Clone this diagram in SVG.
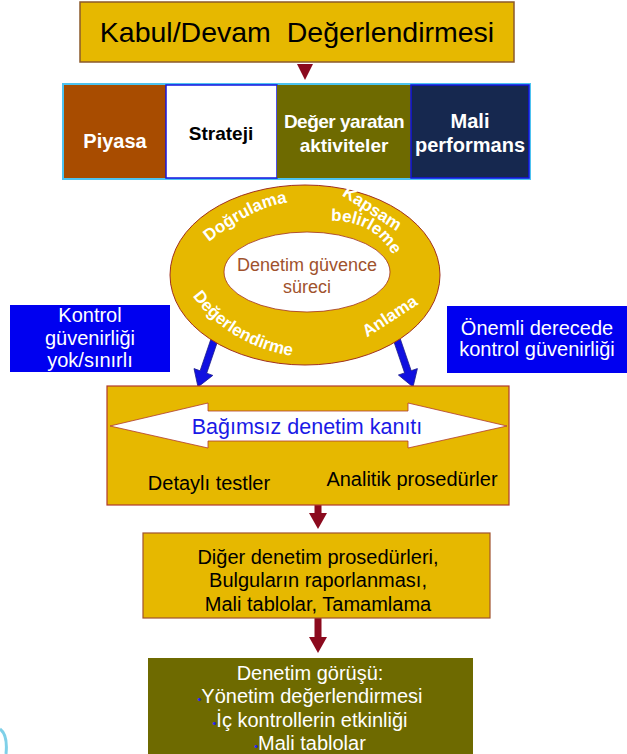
<svg xmlns="http://www.w3.org/2000/svg" width="627" height="754" viewBox="0 0 627 754">
<defs>
<style>
text{font-family:"Liberation Sans",Arial,sans-serif;}
.gold{fill:#E6B800;}
.wb{fill:#fff;font-weight:bold;}
.wt{fill:#fff;}
.bk{fill:#000;}
.mid{text-anchor:middle;}
.ring{fill:#fff;font-weight:bold;font-size:17px;}
</style>
<path id="pDog" d="M205,245 Q254,205 292,202"/>
<path id="pBel" d="M331,221 Q373,220 393,255"/>
<path id="pDeg" d="M189,291 Q226,346 298,357"/>
</defs>
<rect width="627" height="754" fill="#fff"/>

<g id="connectors">
<polygon points="297,64 313,64 305,80" fill="#8B0A1E"/>
<polygon points="218.3,339.2 206.7,373.2 212.8,375.4 198,387 194,368.6 200.1,370.8 211.7,336.8" fill="#1010E0" stroke="#1a1a8a" stroke-width="0.8"/>
<polygon points="400.3,338.9 411.2,370.7 417.4,368.6 413,387 398.4,375 404.6,372.9 393.7,341.1" fill="#1010E0" stroke="#1a1a8a" stroke-width="0.8"/>
<polygon points="314.5,505 321.5,505 321.5,513 327,513 318,529 309,513 314.5,513" fill="#8B0A1E"/>
<polygon points="314.5,618 321.5,618 321.5,637 327,637 318,653 309,637 314.5,637" fill="#8B0A1E"/>
</g>

<g id="title">
<rect x="80" y="2" width="434" height="60" class="gold" stroke="#8B5A2B" stroke-width="1.5"/>
<text x="297" y="42" class="mid bk" font-size="28.5" xml:space="preserve">Kabul/Devam  Değerlendirmesi</text>
</g>

<g id="row">
<rect x="63" y="84" width="467" height="95" fill="none" stroke="#4DC3F0" stroke-width="2"/>
<g id="piyasa">
<rect x="64" y="85" width="102" height="93" fill="#A84C00"/>
<text x="115" y="148" class="mid wb" font-size="20">Piyasa</text>
</g>
<g id="strateji">
<rect x="166" y="85" width="111" height="93" fill="#fff" stroke="#1515E0" stroke-width="1.5"/>
<text x="221" y="140" class="mid bk" font-weight="bold" font-size="19">Strateji</text>
</g>
<g id="deger">
<rect x="277" y="85" width="134" height="93" fill="#6E6A00"/>
<text x="344" y="128" class="mid wb" font-size="19" letter-spacing="-0.5">Değer yaratan</text>
<text x="344" y="152" class="mid wb" font-size="19">aktiviteler</text>
</g>
<g id="mali">
<rect x="411" y="85" width="118" height="93" fill="#16284F" stroke="#1515E0" stroke-width="1.5"/>
<text x="470" y="128" class="mid wb" font-size="20">Mali</text>
<text x="470" y="152" class="mid wb" font-size="20">performans</text>
</g>
</g>

<g id="ring">
<ellipse cx="305" cy="275" rx="135" ry="90" class="gold" stroke="#A0301E" stroke-width="1"/>
<ellipse cx="307" cy="272" rx="83" ry="40" fill="#fff" stroke="#A0301E" stroke-width="0.8"/>
<text x="307" y="271" class="mid" font-size="18" fill="#A0522D">Denetim güvence</text>
<text x="307" y="293" class="mid" font-size="18" fill="#A0522D">süreci</text>
<text class="ring"><textPath href="#pDog" startOffset="50%" text-anchor="middle">Doğrulama</textPath></text>
<text class="ring" font-size="16" transform="translate(372,209) rotate(33)" x="0" y="5" text-anchor="middle">Kapsam</text>
<text class="ring" font-size="16"><textPath href="#pBel" startOffset="50%" text-anchor="middle">belirleme</textPath></text>
<text class="ring"><textPath href="#pDeg" startOffset="50%" text-anchor="middle">Değerlendirme</textPath></text>
<text class="ring" font-size="19" transform="translate(389,315) rotate(-33)" x="0" y="7" text-anchor="middle">Anlama</text>
</g>

<g id="kontrol-yok">
<rect x="10" y="305" width="160" height="67" fill="#0000F0"/>
<text x="90" y="322" class="mid wt" font-size="20">Kontrol</text>
<text x="90" y="345" class="mid wt" font-size="20">güvenirliği</text>
<text x="90" y="367" class="mid wt" font-size="20">yok/sınırlı</text>
</g>

<g id="kontrol-onemli">
<rect x="447" y="306" width="180" height="67" fill="#0000F0"/>
<text x="537" y="335" class="mid wt" font-size="20">Önemli derecede</text>
<text x="537" y="356" class="mid wt" font-size="20">kontrol güvenirliği</text>
</g>

<g id="kanit">
<rect x="107" y="386" width="402" height="119" class="gold" stroke="#B03A2E" stroke-width="1.2"/>
<polygon points="110,426 208,403 208,411 408,411 408,403 507,426 408,448 408,441 208,441 208,448" fill="#fff" stroke="#B03A2E" stroke-width="0.8"/>
<text x="307" y="434" class="mid" font-size="21.5" fill="#1A1AE6">Bağımsız denetim kanıtı</text>
<text x="209" y="490" class="mid bk" font-size="20">Detaylı testler</text>
<text x="412" y="486" class="mid bk" font-size="20">Analitik prosedürler</text>
</g>

<g id="diger">
<rect x="143" y="533" width="347" height="85" class="gold" stroke="#A0522D" stroke-width="1.2"/>
<text x="318" y="564" class="mid bk" font-size="20">Diğer denetim prosedürleri,</text>
<text x="318" y="587" class="mid bk" font-size="20">Bulguların raporlanması,</text>
<text x="318" y="611" class="mid bk" font-size="20">Mali tablolar, Tamamlama</text>
</g>

<g id="gorus">
<rect x="148" y="658" width="325" height="100" fill="#6E6A00"/>
<text x="310" y="680" class="mid wt" font-size="20">Denetim görüşü:</text>
<text x="310" y="703" class="mid wt" font-size="20"><tspan fill="#2020FF" font-size="11">•</tspan>Yönetim değerlendirmesi</text>
<text x="310" y="727" class="mid wt" font-size="20"><tspan fill="#2020FF" font-size="11">•</tspan>İç kontrollerin etkinliği</text>
<text x="310" y="750" class="mid wt" font-size="20"><tspan fill="#2020FF" font-size="11">•</tspan>Mali tablolar</text>
</g>

<path d="M0,729 Q8,735 6,754" fill="none" stroke="#7FD0E8" stroke-width="3"/>
</svg>
